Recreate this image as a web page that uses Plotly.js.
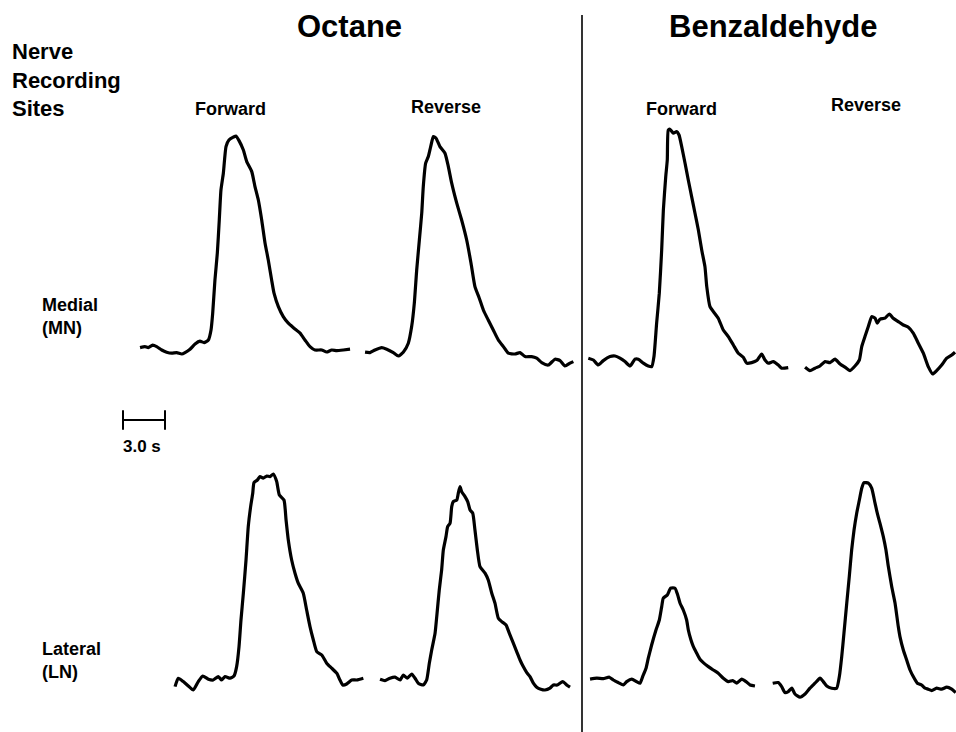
<!DOCTYPE html>
<html>
<head>
<meta charset="utf-8">
<script src="https://cdn.plot.ly/plotly-3.0.1.min.js"></script>
<style>html,body{margin:0;padding:0;background:#fff;}#chart{width:956px;height:732px;}</style>
</head>
<body>
<div id="chart"></div>
<script>
// ---- Data: time (s) and relative response amplitude (arbitrary units) ----
const medOctFwdT = [0.36,0.71,0.95,1.26,1.55,1.91,2.26,2.62,2.98,3.34,3.57,3.93,4.29,4.64,4.93,5.24,5.43,5.55,5.71,5.88,6.02,6.14,6.31,6.50,6.71,7.02,7.21,7.43,7.74,7.98,8.34,8.57,8.81,9.05,9.29,9.52,9.76,9.93,10.24,10.59,10.95,11.36,11.79,12.14,12.5,12.86,13.34,13.69,14.05,14.41,14.88,15.36];
const medOctFwdV = [16.2,16.7,16.2,17.4,16.7,15.0,13.9,13.4,13.7,13.0,13.7,15.4,18.0,19.4,18.7,20.0,25.0,33.4,50.0,63.4,80.0,95.0,103.4,116.7,120.0,121.4,122.0,119.7,115.0,109.2,104.2,96.7,90.0,80.0,68.4,60.0,50.0,43.4,36.7,31.7,28.4,25.9,23.4,20.0,16.7,15.0,15.0,14.0,15.0,14.7,15.0,15.4];

const medOctRevT = [0.36,0.71,1.07,1.55,1.91,2.38,2.74,3.09,3.45,3.69,3.88,4.05,4.24,4.41,4.52,4.69,4.88,5.05,5.24,5.43,5.71,6.07,6.31,6.55,6.91,7.26,7.62,7.93,8.21,8.52,8.81,9.16,9.52,9.88,10.24,10.59,11.07,11.43,11.79,12.26,12.62,12.98,13.45,13.93,14.29,14.64,15.0,15.24];
const medOctRevV = [13.9,13.7,15.0,16.2,15.4,13.7,12.0,13.9,18.4,26.7,38.4,55.0,70.0,83.4,96.7,108.4,111.7,116.7,121.7,120.9,116.7,113.4,106.7,98.4,88.4,80.0,70.0,58.4,46.7,40.9,35.0,30.0,25.0,20.0,16.7,13.4,13.0,13.7,11.7,11.7,10.9,8.7,7.5,10.4,9.7,7.0,8.4,9.2];

const medBenzFwdT = [0.38,0.74,1.09,1.45,1.93,2.29,2.64,3.0,3.36,3.71,3.95,4.31,4.66,4.91,5.07,5.26,5.45,5.62,5.74,5.91,6.02,6.09,6.21,6.45,6.69,6.86,7.05,7.29,7.52,7.76,8.0,8.24,8.48,8.71,8.84,9.07,9.31,9.66,10.02,10.38,10.74,11.09,11.45,11.69,12.05,12.41,12.76,13.0,13.24,13.59,13.95,14.19,14.66];
const medBenzFwdV = [10.9,10.0,7.5,9.7,11.7,12.0,10.9,9.2,7.0,10.4,10.4,8.4,7.0,6.7,11.7,28.4,43.4,65.0,85.0,101.7,110.0,125.0,125.4,123.4,124.2,122.5,116.7,108.4,100.0,91.7,83.4,75.0,65.0,56.7,46.7,36.7,34.2,30.9,25.0,21.7,17.5,13.4,11.4,8.4,8.7,9.7,13.0,10.0,8.4,9.2,7.5,5.9,6.2];

const medBenzRevT = [0.36,0.71,1.07,1.43,1.79,2.14,2.5,2.86,3.21,3.57,3.93,4.24,4.41,4.64,4.88,5.12,5.36,5.52,5.71,6.07,6.38,6.66,7.02,7.38,7.74,8.09,8.45,8.81,9.16,9.48,9.76,10.12,10.48,10.84,11.07];
const medBenzRevV = [6.4,4.7,5.9,7.0,9.2,8.7,10.4,8.0,6.4,4.7,7.0,10.0,16.7,21.7,26.7,31.7,30.9,28.4,30.4,30.9,33.0,30.9,29.2,27.5,26.4,23.4,18.4,13.4,6.7,3.0,4.7,7.5,10.9,12.5,13.9];

const latOctFwdT = [0.36,0.59,0.95,1.31,1.66,2.02,2.34,2.74,3.09,3.45,3.69,3.93,4.29,4.57,4.76,4.93,5.07,5.24,5.43,5.59,5.76,5.91,6.0,6.24,6.43,6.66,6.91,7.14,7.38,7.62,7.81,8.14,8.29,8.45,8.69,8.93,9.16,9.52,9.76,10.0,10.24,10.48,10.84,11.19,11.55,11.91,12.14,12.34,12.62,12.98,13.34,13.81];
const latOctFwdV = [16.7,20.9,19.2,17.0,15.0,19.2,22.0,20.4,20.0,21.7,20.0,21.7,20.9,22.0,26.7,36.7,50.0,63.4,80.0,96.7,106.7,113.4,118.7,120.0,121.7,120.9,122.0,121.7,123.0,119.2,112.5,110.0,100.0,90.0,80.0,73.4,68.4,63.4,55.0,46.7,40.0,34.2,32.5,28.4,25.9,23.4,20.0,17.5,18.0,20.0,20.0,20.9];

const latOctRevT = [0.36,0.71,1.07,1.43,1.79,2.02,2.31,2.62,2.86,3.09,3.45,3.69,3.88,4.05,4.29,4.41,4.59,4.76,4.88,5.07,5.19,5.36,5.48,5.59,5.84,5.95,6.07,6.19,6.43,6.62,6.79,6.98,7.14,7.31,7.5,7.86,8.09,8.34,8.57,8.81,9.05,9.36,9.59,9.88,10.12,10.36,10.59,10.84,11.07,11.31,11.55,11.84,12.14,12.5,12.74,13.02,13.41,13.69,13.93];
const latOctRevV = [20.4,19.7,20.9,21.4,20.0,22.5,20.9,23.0,20.9,18.4,17.5,20.0,28.4,35.0,43.4,51.7,65.0,75.0,85.0,91.7,96.7,98.4,106.7,109.2,110.0,113.4,116.7,114.2,111.7,109.2,105.0,103.4,95.0,85.0,76.7,73.4,70.0,63.4,58.4,50.9,49.2,47.5,43.4,38.4,34.2,30.0,26.7,23.7,21.7,18.4,16.4,15.4,15.0,15.9,17.5,17.5,19.2,17.5,16.4];

const latBenzFwdT = [0.36,0.84,1.31,1.74,2.02,2.38,2.74,2.98,3.34,3.69,3.93,4.12,4.36,4.52,4.76,5.07,5.31,5.48,5.59,5.88,6.12,6.43,6.62,6.79,7.02,7.26,7.38,7.57,7.74,7.98,8.21,8.45,8.81,9.16,9.52,9.88,10.24,10.55,10.84,11.19,11.5,11.79,12.14];
const latBenzFwdV = [20.4,20.9,20.7,21.4,20.0,18.7,17.5,19.2,20.4,19.2,18.4,21.7,25.9,30.9,37.5,45.0,50.0,56.7,60.9,62.5,65.9,65.9,62.5,58.4,55.0,50.0,45.0,40.0,36.7,33.4,30.4,28.7,26.7,25.0,23.4,20.9,19.2,19.7,18.4,20.4,19.2,17.5,17.0];

const latBenzRevT = [0.55,0.95,1.19,1.43,1.66,1.91,2.14,2.5,2.86,3.21,3.57,3.93,4.16,4.41,4.76,5.12,5.31,5.48,5.64,5.84,6.02,6.19,6.36,6.55,6.74,6.91,7.07,7.38,7.62,7.86,8.02,8.21,8.45,8.64,8.81,9.05,9.29,9.52,9.64,9.88,10.12,10.36,10.59,10.88,11.19,11.43,11.66,11.91,12.26,12.62,12.98,13.34,13.62];
const latBenzRevV = [18.4,18.7,16.7,13.7,14.2,15.9,13.0,11.4,13.0,15.9,18.4,20.9,19.2,17.0,15.9,15.9,21.7,31.7,43.4,58.4,71.7,85.0,95.0,103.4,110.0,115.9,118.7,118.4,115.9,108.4,103.4,98.4,91.7,85.0,76.7,66.7,58.4,46.7,41.7,35.0,30.0,25.0,21.7,18.4,17.5,15.9,15.4,14.7,15.9,15.4,16.4,15.4,13.7];

const odorants = ["Octane", "Benzaldehyde"];
const directions = ["Forward", "Reverse"];
const sites = ["Medial<br>(MN)", "Lateral<br>(LN)"];
const scaleBarSeconds = 3.0;
const scaleBarLabel = "3.0 s";

// ---- Layout geometry ----
const W = 956, H = 732;
const PX_PER_SEC = 14;
const Y_RANGE = [0, 140];
const rows = { medial: [100, 380], lateral: [440, 720] };

const panels = [
  { t: medOctFwdT,  v: medOctFwdV,  x0: 135, w: 222, row: "medial" },
  { t: medOctRevT,  v: medOctRevV,  x0: 360, w: 220, row: "medial" },
  { t: medBenzFwdT, v: medBenzFwdV, x0: 583, w: 215, row: "medial" },
  { t: medBenzRevT, v: medBenzRevV, x0: 800, w: 156, row: "medial" },
  { t: latOctFwdT,  v: latOctFwdV,  x0: 170, w: 200, row: "lateral" },
  { t: latOctRevT,  v: latOctRevV,  x0: 375, w: 205, row: "lateral" },
  { t: latBenzFwdT, v: latBenzFwdV, x0: 585, w: 180, row: "lateral" },
  { t: latBenzRevT, v: latBenzRevV, x0: 765, w: 191, row: "lateral" }
];

const traces = [];
const layout = {
  width: W, height: H,
  margin: { l: 0, r: 0, t: 0, b: 0 },
  paper_bgcolor: "#ffffff", plot_bgcolor: "rgba(0,0,0,0)",
  showlegend: false,
  font: { family: "Liberation Sans, Arial, sans-serif", color: "#000" },
  annotations: [], shapes: []
};
const hiddenAxis = { visible: false, showgrid: false, zeroline: false, fixedrange: true };

panels.forEach((p, i) => {
  const n = i + 1;
  const xa = n === 1 ? "xaxis" : "xaxis" + n;
  const ya = n === 1 ? "yaxis" : "yaxis" + n;
  const ry = rows[p.row];
  layout[xa] = Object.assign({}, hiddenAxis, {
    domain: [p.x0 / W, Math.min(1, (p.x0 + p.w) / W)],
    range: [0, p.w / PX_PER_SEC], anchor: "y" + (n === 1 ? "" : n)
  });
  layout[ya] = Object.assign({}, hiddenAxis, {
    domain: [1 - ry[1] / H, 1 - ry[0] / H],
    range: Y_RANGE, anchor: "x" + (n === 1 ? "" : n)
  });
  traces.push({
    type: "scatter", mode: "lines", x: p.t, y: p.v,
    xaxis: "x" + (n === 1 ? "" : n), yaxis: "y" + (n === 1 ? "" : n),
    line: { color: "#000", width: 3.2, shape: "spline", smoothing: 0.5 },
    hoverinfo: "skip", cliponaxis: false
  });
});

// scale bar axis
layout.xaxis9 = Object.assign({}, hiddenAxis, { domain: [123 / W, 223 / W], range: [0, 100 / PX_PER_SEC], anchor: "y9" });
layout.yaxis9 = Object.assign({}, hiddenAxis, { domain: [1 - 430 / H, 1 - 410 / H], range: [-1, 1], anchor: "x9" });
traces.push({
  type: "scatter", mode: "lines+markers", x: [0, scaleBarSeconds], y: [0, 0],
  xaxis: "x9", yaxis: "y9",
  line: { color: "#000", width: 2 },
  marker: { symbol: "line-ns", size: 14, line: { color: "#000", width: 2 } },
  hoverinfo: "skip", cliponaxis: false
});

// divider between odorants
layout.shapes.push({ type: "line", xref: "paper", yref: "paper", x0: 582 / W, x1: 582 / W, y0: 0, y1: 1 - 15 / H, line: { color: "#000", width: 1.6 } });

function ann(text, xpx, ypx, size, anchor, bold) {
  layout.annotations.push({
    text: bold ? "<b>" + text + "</b>" : text,
    xref: "paper", yref: "paper", x: xpx / W, y: 1 - ypx / H,
    xanchor: anchor, yanchor: "middle", showarrow: false, align: "left",
    font: { size: size, color: "#000", family: "Liberation Sans, Arial, sans-serif" }
  });
}
ann(odorants[0], 349, 26, 31, "center", true);
ann(odorants[1], 773, 26, 31, "center", true);
ann(directions[0], 230, 109, 18, "center", true);
ann(directions[1], 446, 107, 18, "center", true);
ann(directions[0], 681, 109, 18, "center", true);
ann(directions[1], 866, 105, 18, "center", true);
ann("Nerve<br>Recording<br>Sites", 10, 80, 22, "left", true);
ann(sites[0], 40, 316, 18, "left", true);
ann(sites[1], 40, 660, 18, "left", true);
ann(scaleBarLabel, 121, 446, 17, "left", true);

Plotly.newPlot("chart", traces, layout, { displayModeBar: false, staticPlot: true });
</script>
</body>
</html>
